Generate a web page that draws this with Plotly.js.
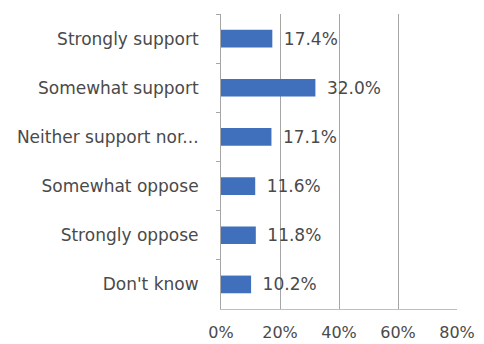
<!DOCTYPE html>
<html><head><meta charset="utf-8">
<script src="https://cdn.plot.ly/plotly-3.0.1.min.js"></script>
<style>html,body{margin:0;padding:0;background:#fff}#c{width:484px;height:344px}</style>
</head><body><div id="c"></div>
<script>
const categories = ["Strongly support","Somewhat support","Neither support nor...","Somewhat oppose","Strongly oppose","Don't know"];
const values = [17.4, 32.0, 17.1, 11.6, 11.8, 10.2];
const labels = values.map(v => "\u2002" + v.toFixed(1) + "%");
const xTicks = [0, 20, 40, 60, 80];
const FONT = "DejaVu Sans, Open Sans, sans-serif";

Plotly.newPlot("c", [{
  type: "bar",
  orientation: "h",
  y: categories,
  x: values,
  text: labels,
  textposition: "outside",
  constraintext: "none",
  cliponaxis: false,
  textfont: {family: FONT, size: 17, color: "#4a4a4a"},
  marker: {color: "#4070BC"},
  width: 0.36,
  hoverinfo: "none"
}], {
  width: 484, height: 344,
  margin: {l: 221, r: 27, t: 14, b: 35},
  paper_bgcolor: "#fff", plot_bgcolor: "#fff",
  showlegend: false,
  font: {family: FONT, size: 17, color: "#4a4a4a"},
  xaxis: {
    range: [0, 80], tickvals: xTicks, ticktext: xTicks.map(v => v + "%"),
    showgrid: true, gridcolor: "#a6a6a6", gridwidth: 1,
    showline: true, linecolor: "#bfbfbf", zeroline: false,
    ticks: "", tickfont: {family: FONT, size: 16, color: "#4a4a4a"}, ticklabelstandoff: 9, fixedrange: true
  },
  yaxis: {
    autorange: "reversed", showline: true, linecolor: "#a6a6a6",
    ticks: "outside", tickson: "boundaries", ticklen: 4, tickcolor: "#a6a6a6",
    showgrid: false, tickfont: {family: FONT, size: 17, color: "#4a4a4a"}, ticklabelstandoff: 18
  }
}, {displayModeBar: false, staticPlot: true});
</script></body></html>
